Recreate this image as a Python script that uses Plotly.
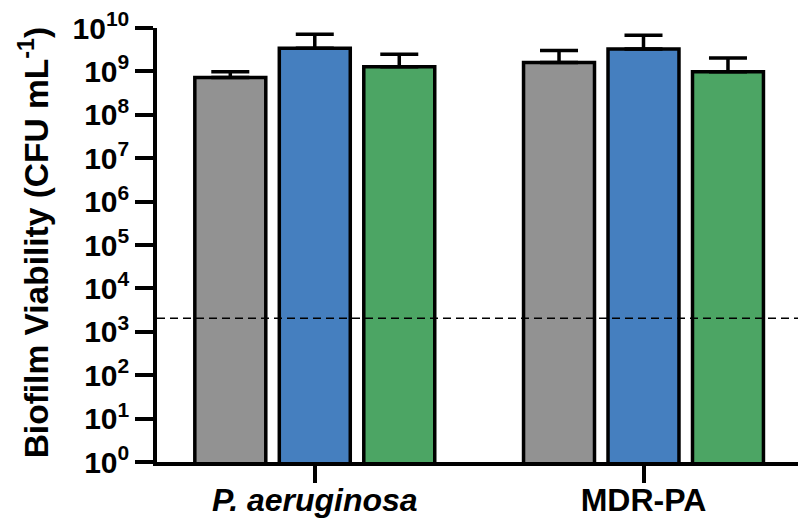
import plotly.graph_objects as go

# Biofilm viability per strain, three conditions (CFU per mL)
strains = ["P. aeruginosa", "MDR-PA"]
strain_labels = ["<i>P. aeruginosa</i>", "MDR-PA"]

series_names = ["Condition 1", "Condition 2", "Condition 3"]
gray_vals = [7.2e8, 1.6e9]
gray_err = [2.6e8, 1.45e9]
blue_vals = [3.4e9, 3.3e9]
blue_err = [3.8e9, 3.5e9]
green_vals = [1.28e9, 9.8e8]
green_err = [1.22e9, 1.06e9]

detection_limit = 2.05e3

decades = list(range(0, 11))
ytick_vals = [10 ** d for d in decades]
ytick_text = [f"10<sup>{d}</sup>" for d in decades]

colors = ["#929292", "#457fbf", "#4ca564"]
values = [gray_vals, blue_vals, green_vals]
errors = [gray_err, blue_err, green_err]

fig = go.Figure()
for name, vals, errs, col in zip(series_names, values, errors, colors):
    fig.add_trace(go.Bar(
        x=strains, y=vals, name=name,
        marker=dict(color=col, line=dict(color="black", width=3.5)),
        error_y=dict(type="data", array=errs, arrayminus=[0] * len(errs),
                     symmetric=False, color="black", thickness=3.5, width=19),
        showlegend=False,
    ))

fig.add_hline(y=detection_limit, line=dict(color="black", width=1.6, dash="8px,5px"))

font_family = "Liberation Sans, Arial, sans-serif"

fig.update_layout(
    width=798, height=521,
    margin=dict(l=157, r=0, t=28, b=59, autoexpand=False),
    paper_bgcolor="white", plot_bgcolor="white",
    barmode="group", bargap=0.229, bargroupgap=0.16,
    font=dict(family=font_family, color="black"),
)

fig.update_xaxes(
    type="category", range=[-0.48, 1.47],
    tickvals=strains, ticktext=strain_labels,
    tickfont=dict(size=32, family=font_family, weight="bold", color="black"),
    showline=True, linewidth=3.5, linecolor="black",
    ticks="outside", ticklen=17, tickwidth=3.5, tickcolor="black",
    ticklabelstandoff=-10,
    showgrid=False, zeroline=False, automargin=False,
)

fig.update_yaxes(
    type="log", range=[0, 10],
    tickvals=ytick_vals, ticktext=ytick_text,
    tickfont=dict(size=30, family=font_family, weight="bold", color="black"),
    showline=True, linewidth=3.5, linecolor="black",
    ticks="outside", ticklen=18, tickwidth=3.5, tickcolor="black",
    showgrid=False, zeroline=False, automargin=False,
)

fig.add_annotation(
    text="Biofilm Viability (CFU mL<sup>-1</sup>)",
    xref="paper", yref="paper", x=-0.192, y=0.506,
    xanchor="center", yanchor="middle", textangle=-90, showarrow=False,
    font=dict(size=33.5, family=font_family, weight="bold", color="black"),
)

fig.write_html("out.html")
